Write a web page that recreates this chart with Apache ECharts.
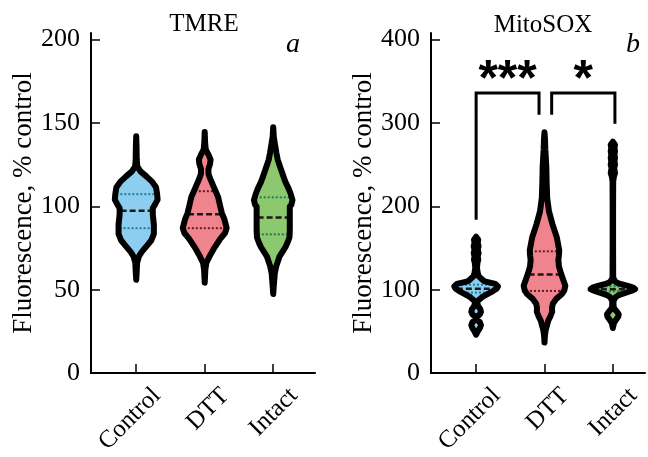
<!DOCTYPE html>
<html>
<head>
<meta charset="utf-8">
<script src="https://cdn.jsdelivr.net/npm/echarts@6/dist/echarts.min.js"></script>
<style>
  html, body { margin: 0; padding: 0; background: #fff; }
  #chart { width: 648px; height: 457px; }
</style>
</head>
<body>
<div id="chart"></div>
<script>
const categories = ['Control', 'DTT', 'Intact'];
const fills = ['#8ccdf0', '#f0848e', '#8cc86e'];
const quartileColors = ['#1b7c98', '#5a1c22', '#1c7c5a'];

// violin density profiles: [value, density]
const tmreControl = [[142,0],[136,0.3],[128,0.5],[124,1],[121,4],[118,9.5],[115,14.5],[111.5,18.5],[107.5,19.5],[104,20],[101,17.5],[99,15.5],[95,15.5],[89,16.5],[83.5,16.5],[79.5,14],[76,9.5],[72.5,5],[70,2.5],[66,0.8],[60,0.4],[56,0]];
const tmreDtt = [[144.6,0],[138,0.4],[134,1],[131,3.5],[128,5.5],[125.5,5],[122.5,3.5],[119.5,3.5],[116,5.5],[111.5,8.5],[105.7,12.5],[100,14.5],[96,16],[92,18.5],[87,20.5],[84,19],[80.5,14.5],[77,11],[74.6,8.5],[70,4.5],[66,1.5],[62,0.6],[58,0.3],[54.2,0]];
const tmreIntact = [[147.5,0],[142,0.5],[137.8,1.5],[132,3],[128,4.2],[122.3,7.2],[118,9.5],[114.5,11.5],[110.5,14.5],[107.7,16.2],[103.8,18],[101,17],[99.9,15.5],[96,15.5],[91,15.5],[86,15.5],[81.5,15.2],[78.5,13.5],[75.6,11.5],[72.5,8.5],[69.8,5.8],[64,2.8],[60,1.5],[56,1],[52,0.5],[47.4,0]];

const soxControl = [[163.5,0],[160,2],[156,1.5],[152,2.3],[148,1.5],[144,2.3],[140,1.5],[136,2],[132,1.2],[126,0.8],[120,1.5],[116,2.5],[112.5,5.5],[110,8],[107,18],[104,20.5],[101,19],[98,15.5],[95,11],[91,5.5],[87,2],[84,1],[80,2],[76.5,4],[73.5,4.5],[70.5,3.5],[67.5,1],[64,1],[61,3.5],[57.5,4.5],[54,3.5],[50,1.5],[46,0]];
const soxDtt = [[289,0],[280,0.5],[268,0.8],[248,1.7],[229,2],[210,2.5],[194,4.2],[178.4,7.5],[163,11.5],[147.3,13.8],[141,13.5],[135.6,13],[128,13.5],[120,15.3],[112,17.5],[104.6,19.5],[99,18.5],[94.8,16.3],[89,11],[83.1,7.8],[78,7],[73.5,7.2],[68,5.5],[63,3.5],[58,2.5],[52,1.2],[46.3,0.5],[41,0.2],[36.5,0]];
const soxIntact = [[277.5,0],[274,2],[270,1.5],[266,2],[262,1.5],[258,2],[254,1.5],[250,2],[246,1.2],[240,2],[236,1],[230,0.3],[200,0.2],[150,0.2],[115,0.3],[111,1.5],[108.5,3.5],[106.5,8],[104.6,14],[102.5,19],[100.6,20.8],[98.5,17],[96,11.5],[93.5,5.5],[91,2.5],[87,0.8],[83,0.5],[78,1],[74,3.5],[70.5,5.5],[67.5,5],[64,3],[60,1],[57,0.5],[54,0]];

// quartiles [q1, median, q3]
const tmreQuartiles = [[86.9,97.4,107.3],[86.9,95.2,109.1],[83.2,93.3,105.4]];
const soxQuartiles = [[96.5,101,106],[98.5,118.2,146],[98,100.5,104]];

const tmreTicks = [0, 50, 100, 150, 200];
const soxTicks = [0, 100, 200, 300, 400];

// significance brackets: [x1, x2, top, leftEnd, rightEnd]
const brackets = [[0, 0.92, 336, 184, 310], [1.105, 2.03, 336, 310, 299]];
const bracketLabels = ['***', '*'];
const bracketLabelY = 350;

const VIOLIN_SCALE = 1 / 64;
const STROKE = 6;
const SERIF = '"Liberation Serif", "Times New Roman", serif';

function widthAt(profile, v) {
  for (let i = 0; i < profile.length - 1; i++) {
    const [v0, w0] = profile[i];
    const [v1, w1] = profile[i + 1];
    if (v <= v0 && v >= v1) return w0 + (w1 - w0) * (v0 - v) / (v0 - v1);
  }
  return 0;
}

function violinRenderer(profiles, quartiles) {
  return function (params, api) {
    const i = params.dataIndex;
    const cat = api.value(0);
    const prof = profiles[i];
    const right = prof.map(([v, w]) => api.coord([cat + w * VIOLIN_SCALE, v]));
    const left = prof.slice().reverse().map(([v, w]) => api.coord([cat - w * VIOLIN_SCALE, v]));
    const pts = right.concat(left);
    const children = [{
      type: 'polygon', shape: { points: pts },
      style: { fill: fills[i], stroke: null }
    }];
    quartiles[i].forEach((q, k) => {
      const w = widthAt(prof, q);
      const a = api.coord([cat - w * VIOLIN_SCALE, q]);
      const b = api.coord([cat + w * VIOLIN_SCALE, q]);
      const median = k === 1;
      children.push({
        type: 'line',
        shape: { x1: a[0] + 1, y1: a[1], x2: b[0] - 1, y2: b[1] },
        style: {
          stroke: median ? '#1a1a1a' : quartileColors[i],
          lineWidth: median ? 2.5 : 2,
          lineDash: median ? [6, 3] : [2, 2]
        }
      });
    });
    children.push({
      type: 'polygon', shape: { points: pts },
      style: { fill: null, stroke: '#000', lineWidth: STROKE, lineJoin: 'round', lineCap: 'round' }
    });
    return { type: 'group', children };
  };
}

function bracketRenderer(params, api) {
  const i = params.dataIndex;
  const x1 = api.value(0), x2 = api.value(1), top = api.value(2);
  const l = api.value(3), r = api.value(4);
  const pts = [api.coord([x1, l]), api.coord([x1, top]), api.coord([x2, top]), api.coord([x2, r])];
  const c = api.coord([(x1 + x2) / 2, bracketLabelY]);
  return {
    type: 'group',
    children: [
      { type: 'polyline', shape: { points: pts }, style: { stroke: '#000', lineWidth: 3, fill: null } },
      { type: 'text', x: c[0], y: c[1], style: {
        text: bracketLabels[i], align: 'center', verticalAlign: 'middle',
        font: 'bold 50px "Liberation Sans", Arial, sans-serif', fill: '#000' } }
    ]
  };
}

function xAxis(gridIndex, max) {
  return {
    gridIndex, type: 'value', min: -0.66, max,
    axisLine: { show: true, onZero: false, lineStyle: { color: '#000', width: 2 } },
    axisTick: { show: true, inside: true, length: 9, customValues: [0, 1, 2], lineStyle: { color: '#000', width: 1.5 } },
    axisLabel: {
      customValues: [0.3, 1.3, 2.3], rotate: 45, margin: 19,
      formatter: (v) => categories[Math.round(v - 0.3)],
      fontFamily: SERIF, fontSize: 25, color: '#000'
    },
    splitLine: { show: false }
  };
}

function yAxis(gridIndex, max, ticks) {
  return {
    gridIndex, type: 'value', min: 0, max,
    name: 'Fluorescence, % control', nameLocation: 'middle', nameGap: 54,
    nameTextStyle: { fontFamily: SERIF, fontSize: 27, color: '#000' },
    axisLine: { show: true, onZero: false, lineStyle: { color: '#000', width: 2 } },
    axisTick: { show: true, inside: true, length: 9, customValues: ticks, lineStyle: { color: '#000', width: 1.5 } },
    axisLabel: { customValues: ticks, margin: 11, fontFamily: SERIF, fontSize: 26, color: '#000' },
    splitLine: { show: false }
  };
}

const chart = echarts.init(document.getElementById('chart'), null, { renderer: 'canvas' });
chart.setOption({
  animation: false,
  backgroundColor: '#fff',
  grid: [
    { left: 91, top: 33, width: 224, height: 350 },
    { left: 431, top: 33, width: 214, height: 350 }
  ],
  xAxis: [xAxis(0, 2.61), xAxis(1, 2.47)],
  yAxis: [yAxis(0, 204, tmreTicks), yAxis(1, 408, soxTicks)],
  graphic: [
    { type: 'text', x: 204, y: 24, style: { text: 'TMRE', align: 'center', verticalAlign: 'middle', font: '25px ' + SERIF, fill: '#000' } },
    { type: 'text', x: 543, y: 25, style: { text: 'MitoSOX', align: 'center', verticalAlign: 'middle', font: '25px ' + SERIF, fill: '#000' } },
    { type: 'text', x: 293, y: 45, style: { text: 'a', align: 'center', verticalAlign: 'middle', font: 'italic 28px ' + SERIF, fill: '#000' } },
    { type: 'text', x: 633, y: 45, style: { text: 'b', align: 'center', verticalAlign: 'middle', font: 'italic 28px ' + SERIF, fill: '#000' } }
  ],
  series: [
    {
      type: 'custom', xAxisIndex: 0, yAxisIndex: 0, clip: false,
      renderItem: violinRenderer([tmreControl, tmreDtt, tmreIntact], tmreQuartiles),
      encode: { x: 0, y: 1 },
      data: categories.map((c, i) => [i, tmreQuartiles[i][1]])
    },
    {
      type: 'custom', xAxisIndex: 1, yAxisIndex: 1, clip: false,
      renderItem: violinRenderer([soxControl, soxDtt, soxIntact], soxQuartiles),
      encode: { x: 0, y: 1 },
      data: categories.map((c, i) => [i, soxQuartiles[i][1]])
    },
    {
      type: 'custom', xAxisIndex: 1, yAxisIndex: 1, clip: false,
      renderItem: bracketRenderer,
      encode: { x: [0, 1], y: [2, 3, 4] },
      data: brackets
    }
  ]
});
</script>
</body>
</html>
